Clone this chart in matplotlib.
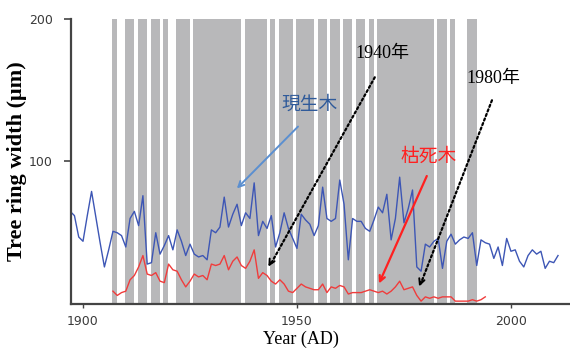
import numpy as np
import matplotlib
matplotlib.use("Agg")
import matplotlib.pyplot as plt

# living trees (現生木), annual ring width
live_start = 1897
live_width = [65, 62, 47, 44, 62, 79, 61, 43, 26, 38,
              51, 50, 48, 40, 60, 65, 55, 76, 28, 29,
              50, 35, 41, 48, 38, 52, 44, 34, 42, 35,
              33, 34, 31, 52, 50, 54, 75, 54, 63, 70,
              55, 64, 60, 85, 48, 58, 53, 62, 40, 50,
              64, 53, 46, 39, 63, 59, 56, 48, 55, 82,
              60, 58, 60, 87, 70, 31, 60, 58, 58, 53,
              51, 59, 68, 64, 77, 45, 60, 89, 57, 67,
              80, 26, 23, 42, 40, 44, 46, 25, 44, 49,
              42, 45, 47, 46, 50, 27, 45, 43, 42, 32,
              40, 27, 46, 37, 38, 30, 26, 34, 38, 35,
              37, 25, 30, 29, 34]

# dead trees (枯死木)
dead_start = 1907
dead_width = [9, 6, 8, 9, 17, 20, 26, 34, 21, 20,
              22, 16, 15, 28, 24, 23, 17, 12, 16, 21,
              19, 20, 17, 28, 27, 28, 34, 24, 30, 33,
              27, 25, 30, 38, 18, 22, 20, 16, 14, 17,
              14, 9, 8, 11, 14, 12, 11, 10, 10, 14,
              8, 12, 11, 13, 12, 7, 8, 8, 8, 9,
              10, 9, 8, 9, 7, 9, 12, 16, 10, 11,
              12, 6, 2, 5, 4, 5, 4, 5, 5, 5,
              2, 2, 2, 2, 3, 2, 3, 5]

# shaded periods (first year, last year)
shade_periods = [(1907, 1907), (1910, 1911), (1913, 1914), (1916, 1917),
                 (1919, 1919), (1922, 1924), (1926, 1936), (1938, 1942),
                 (1944, 1944), (1946, 1948), (1950, 1953), (1955, 1956),
                 (1958, 1959), (1961, 1962), (1964, 1965), (1967, 1967),
                 (1969, 1981), (1983, 1984), (1986, 1986), (1990, 1991)]

live_years = np.arange(live_start, live_start + len(live_width))
dead_years = np.arange(dead_start, dead_start + len(dead_width))

fig = plt.figure(figsize=(5.7, 3.52), dpi=100)
ax = fig.add_axes([0.1246, 0.1364, 0.8754, 0.8096])

for a, b in shade_periods:
    ax.axvspan(a - 0.2, b + 0.97, color="#b8b8ba", lw=0, zorder=0)

ax.plot(live_years, live_width, color="#3d56b5", lw=1.0, zorder=2)
ax.plot(dead_years, dead_width, color="#f03c3c", lw=1.0, zorder=2)

ax.set_xlim(1897.2, 2013.8)
ax.set_ylim(0, 200)
ax.set_xticks([1900, 1950, 2000])
ax.set_yticks([100, 200])

for s in ["top", "right"]:
    ax.spines[s].set_visible(False)
for s in ["left", "bottom"]:
    ax.spines[s].set_color("#444444")
    ax.spines[s].set_linewidth(1.6)

tickfont = ["Liberation Sans Narrow", "DejaVu Sans"]
ax.tick_params(axis="y", length=5, width=1.2, color="#444444", labelcolor="#3a3a3a", pad=8)
ax.tick_params(axis="x", length=3, width=1.0, color="#444444", labelcolor="#3a3a3a", pad=5)
for lab in ax.get_xticklabels() + ax.get_yticklabels():
    lab.set_family(tickfont)
    lab.set_fontsize(9)

ax.set_xlabel("Year (AD)", family="Liberation Serif", fontsize=13)
ax.xaxis.set_label_coords(0.461, -0.095)
ax.set_ylabel("Tree ring width (\u03bcm)", family="Liberation Serif", fontsize=16,
              fontweight="bold")
ax.yaxis.set_label_coords(-0.088, 0.5)

jp = ["Noto Sans CJK JP", "DejaVu Sans"]
yearfont = ["Liberation Serif", "Noto Sans CJK JP"]

ax.text(1953.0, 140, "現生木", family=jp, fontsize=13.5, color="#2f5a9a",
        ha="center", va="center")
ax.annotate("", xy=(1935.5, 79.7), xytext=(1950.7, 125.9),
            arrowprops=dict(arrowstyle="->", color="#5b8fd0", lw=1.4))

ax.text(1980.8, 103.5, "枯死木", family=jp, fontsize=13.5, color="#ff2020",
        ha="center", va="center")
ax.annotate("", xy=(1968.9, 12.6), xytext=(1980.6, 91.6),
            arrowprops=dict(arrowstyle="->", color="#ff2020", lw=1.6))

ax.text(1969.9, 175.5, "1940年", family=yearfont, fontsize=13, color="black",
        ha="center", va="center")
ax.annotate("", xy=(1943.6, 26.5), xytext=(1968.5, 160.8),
            arrowprops=dict(arrowstyle="-", color="black", lw=1.6, linestyle=(0, (1, 1.2))))
ax.annotate("", xy=(1943.0, 24.5), xytext=(1944.2, 31.0),
            arrowprops=dict(arrowstyle="->", color="black", lw=1.4))

ax.text(1995.8, 158.0, "1980年", family=yearfont, fontsize=13, color="black",
        ha="center", va="center")
ax.annotate("", xy=(1978.7, 12.5), xytext=(1995.8, 144.8),
            arrowprops=dict(arrowstyle="-", color="black", lw=1.6, linestyle=(0, (1, 1.2))))
ax.annotate("", xy=(1978.3, 10.5), xytext=(1979.2, 17.5),
            arrowprops=dict(arrowstyle="->", color="black", lw=1.4))

plt.savefig("out.png", dpi=100)
